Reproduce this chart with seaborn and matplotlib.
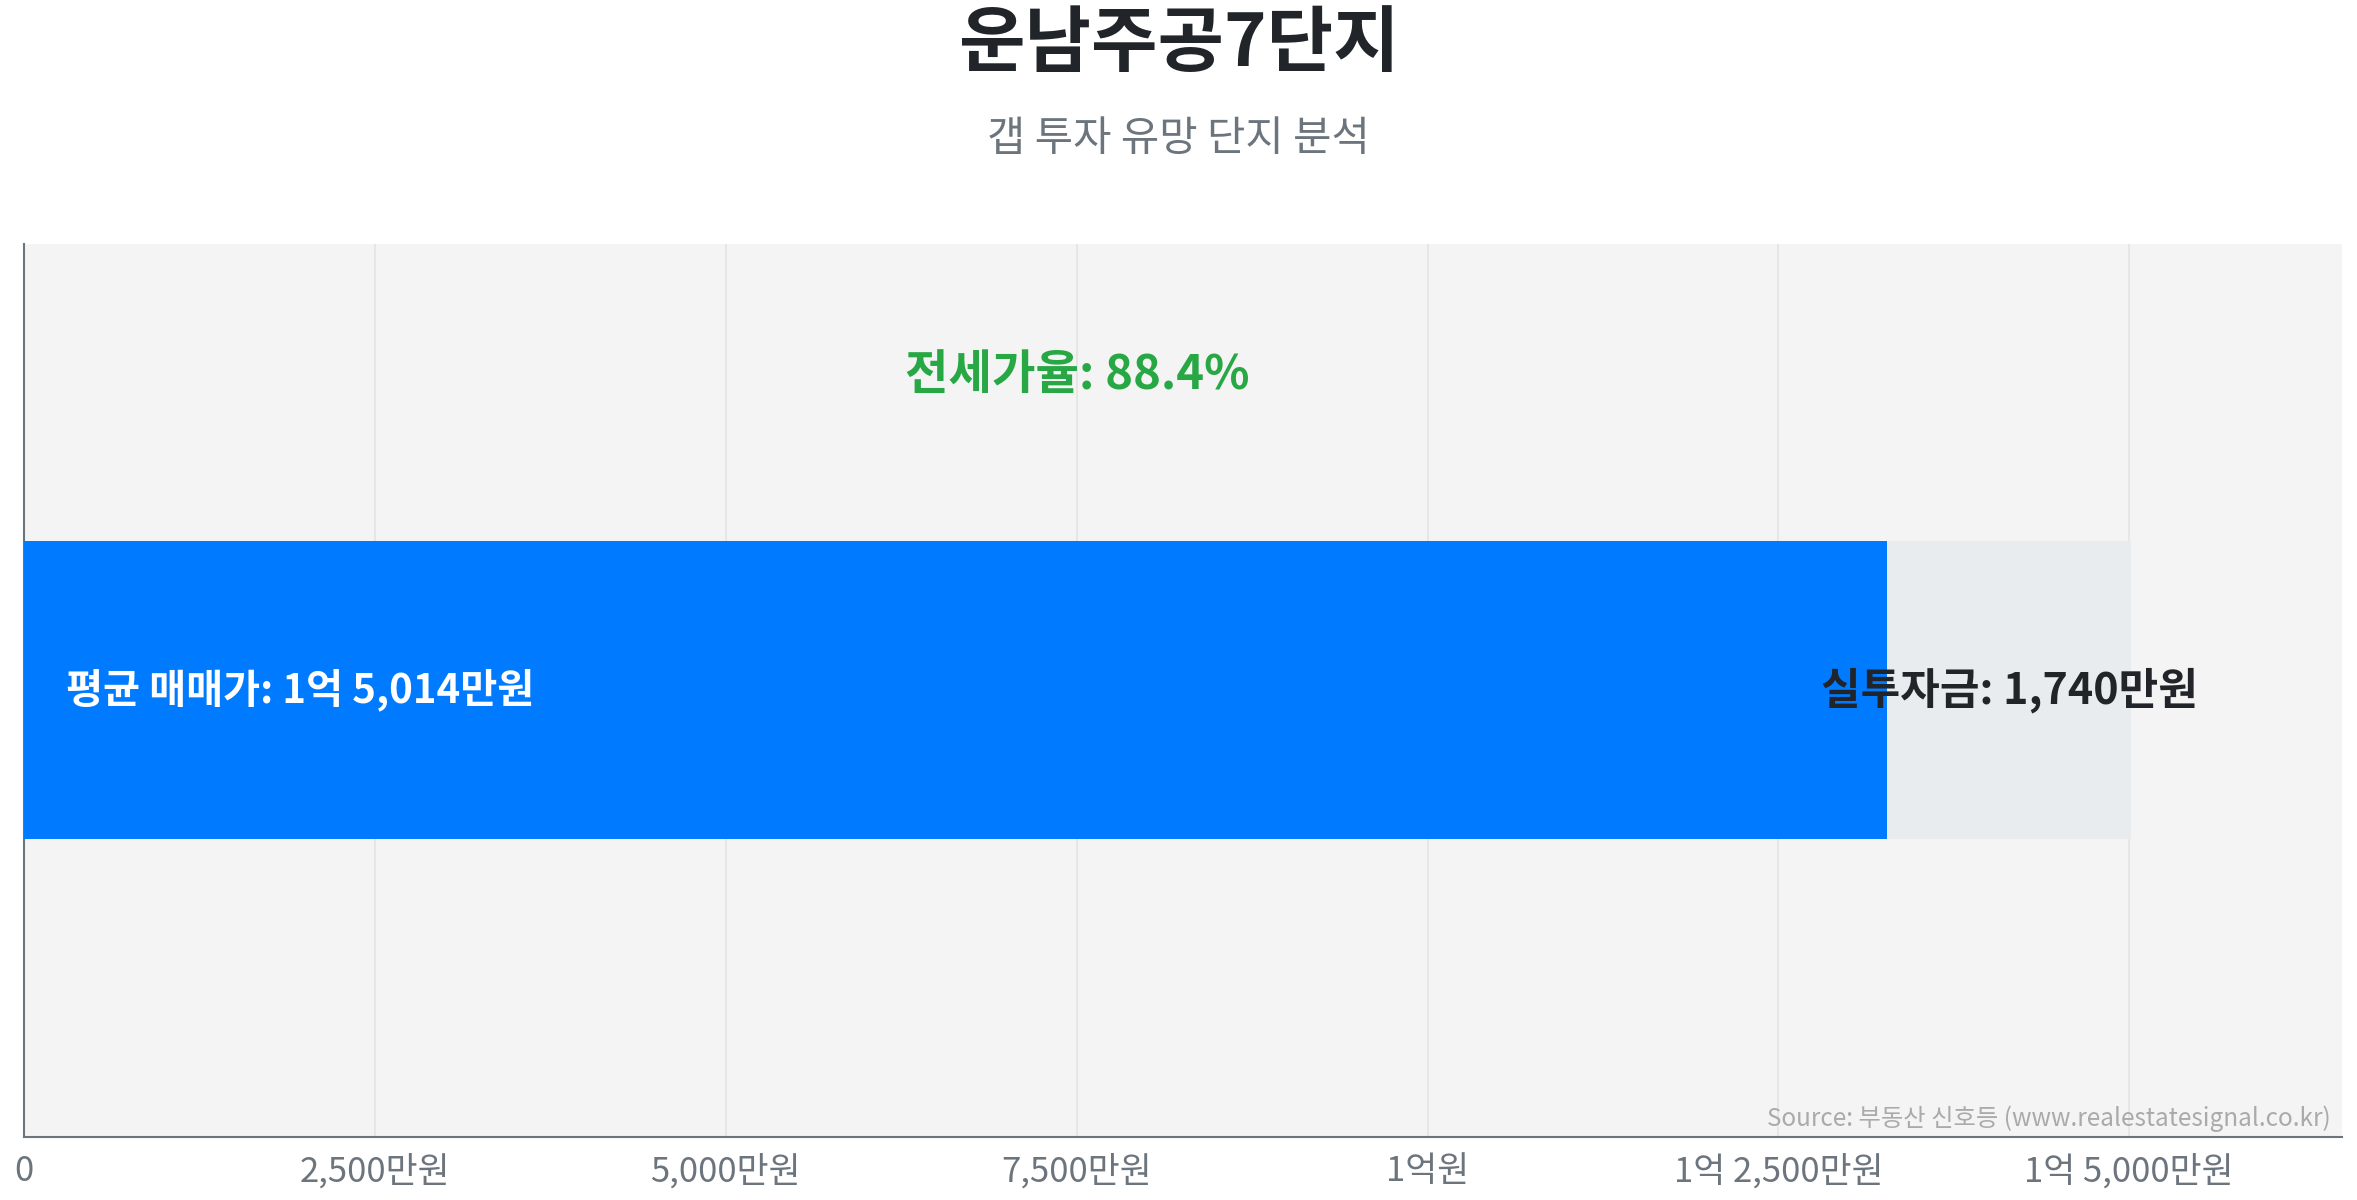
import matplotlib
matplotlib.use("Agg")
import matplotlib.pyplot as plt
import seaborn as sns
import pandas as pd

# data
complex_name = "운남주공7단지"
subtitle = "갭 투자 유망 단지 분석"
sale_price = [15014]      # 평균 매매가 (만원)
gap_amount = [1740]       # 실투자금 (만원)
jeonse_ratio = [88.4]     # 전세가율 (%)
tick_values = [0, 2500, 5000, 7500, 10000, 12500, 15000]
tick_labels = ["0", "2,500만원", "5,000만원", "7,500만원", "1억원", "1억 2,500만원", "1억 5,000만원"]
source_text = "Source: 부동산 신호등 (www.realestatesignal.co.kr)"

jeonse_price = [s - g for s, g in zip(sale_price, gap_amount)]


def fmt_won(v):
    eok, man = divmod(int(round(v)), 10000)
    if eok and man:
        return f"{eok}억 {man:,}만원"
    if eok:
        return f"{eok}억원"
    return f"{man:,}만원"


df = pd.DataFrame({"name": [complex_name], "sale": sale_price, "jeonse": jeonse_price})

sns.set_style("white")
plt.rcParams["font.family"] = ["Noto Sans CJK KR", "DejaVu Sans"]

fig = plt.figure(figsize=(23.57, 12), dpi=100)
ax = fig.add_axes([0.0102, 0.0525, 0.9834, 0.7445])
ax.set_facecolor("#f4f4f4")

# grey = full sale price, blue = jeonse portion on top
sns.barplot(data=df, x="sale", y="name", orient="h", color="#e9ecef", width=1,
            saturation=1, linewidth=0, edgecolor="none", ax=ax, zorder=2)
sns.barplot(data=df, x="jeonse", y="name", orient="h", color="#007bff", width=1,
            saturation=1, linewidth=0, edgecolor="none", ax=ax, zorder=3)

ax.set_xlim(0, sale_price[0] * 1.1)
ax.set_ylim(1.5, -1.5)
ax.set_xticks(tick_values)
ax.set_xticklabels(tick_labels, fontsize=25, color="#6c757d")
ax.set_yticks([])
ax.set_xlabel("")
ax.set_ylabel("")
ax.grid(axis="x", color="#e4e4e4", linewidth=1.2, zorder=0)
ax.set_axisbelow(True)
ax.tick_params(axis="x", length=8, width=1.2, color="#6c757d", pad=4)

for side in ["top", "right"]:
    ax.spines[side].set_visible(False)
for side in ["left", "bottom"]:
    ax.spines[side].set_color("#6c757d")
    ax.spines[side].set_linewidth(1.5)

# labels
ax.text(sale_price[0] * 0.02, 0, f"평균 매매가: {fmt_won(sale_price[0])}",
        color="white", fontsize=29, fontweight="bold", va="center", ha="left", zorder=5)
ax.text((jeonse_price[0] + sale_price[0]) / 2, 0, f"실투자금: {fmt_won(gap_amount[0])}",
        color="#212529", fontsize=31, fontweight="bold", va="center", ha="center", zorder=5)
ax.text(sale_price[0] / 2, -1.06, f"전세가율: {jeonse_ratio[0]}%",
        color="#28a745", fontsize=34, fontweight="bold", va="center", ha="center", zorder=5)
ax.text(0.995, 0.006, source_text, transform=ax.transAxes, ha="right", va="bottom",
        fontsize=17.5, color="#aaaaaa", zorder=5)

fig.text(0.5, 0.963, complex_name, ha="center", va="center", fontsize=52,
         fontweight="bold", color="#212529")
fig.text(0.5, 0.884, subtitle, ha="center", va="center", fontsize=30, color="#6c757d")

fig.savefig("out.png", dpi=100, facecolor="white")
